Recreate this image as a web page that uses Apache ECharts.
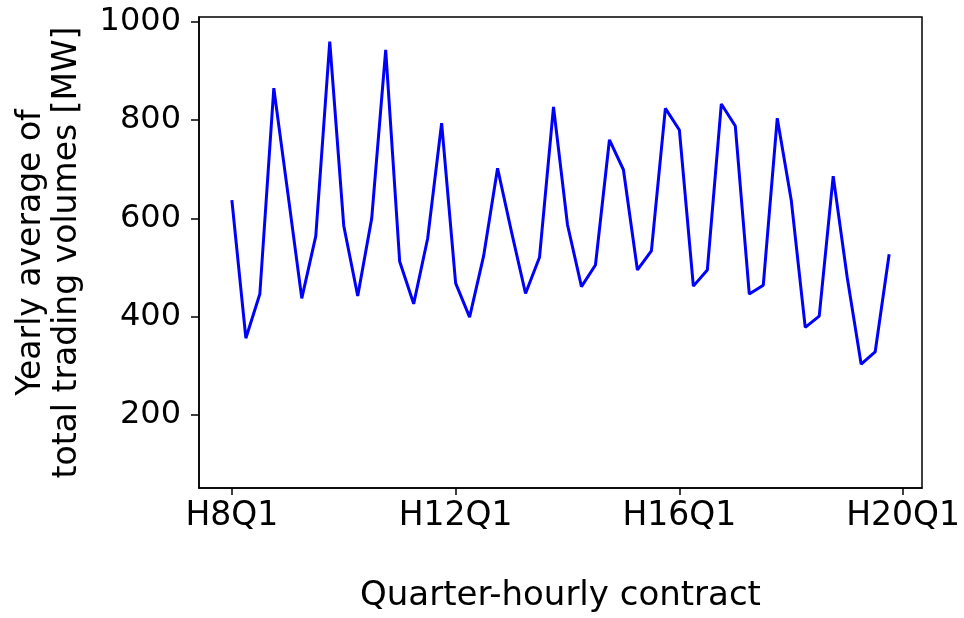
<!DOCTYPE html>
<html>
<head>
<meta charset="utf-8">
<script src="https://cdn.jsdelivr.net/npm/echarts@6/dist/echarts.min.js"></script>
<style>html,body{margin:0;padding:0;background:#fff}#c{width:964px;height:618px}</style>
</head>
<body>
<div id="c"></div>
<script>
const contracts = ['H8Q1','H8Q2','H8Q3','H8Q4','H9Q1','H9Q2','H9Q3','H9Q4','H10Q1','H10Q2','H10Q3','H10Q4','H11Q1','H11Q2','H11Q3','H11Q4','H12Q1','H12Q2','H12Q3','H12Q4','H13Q1','H13Q2','H13Q3','H13Q4','H14Q1','H14Q2','H14Q3','H14Q4','H15Q1','H15Q2','H15Q3','H15Q4','H16Q1','H16Q2','H16Q3','H16Q4','H17Q1','H17Q2','H17Q3','H17Q4','H18Q1','H18Q2','H18Q3','H18Q4','H19Q1','H19Q2','H19Q3','H19Q4'];
const volumes = [637,356,446,865,652,437,564,960,585,442,600,943,512,426,559,794,468,399,523,702,572,447,521,827,587,461,505,760,699,495,534,824,780,462,495,833,788,446,464,804,637,378,401,686,480,303,328,527];
const xTickPos = [0,16,32,48];
const xTickLabels = ['H8Q1','H12Q1','H16Q1','H20Q1'];
const yTicks = [200,400,600,800,1000];

const chart = echarts.init(document.getElementById('c'), null, {renderer:'canvas'});
const font = 'DejaVu Sans';
chart.setOption({
  animation:false,
  backgroundColor:'#fff',
  grid:{left:199, top:17, right:42, bottom:130, show:true, borderColor:'#000', borderWidth:1.5, backgroundColor:'transparent'},
  xAxis:{
    type:'value', min:-2.35, max:49.35,
    name:'Quarter-hourly contract', nameLocation:'middle', nameGap:91,
    nameTextStyle:{fontFamily:font, fontSize:34, color:'#000'},
    axisLine:{show:true, onZero:false, lineStyle:{color:'#000', width:1.5}},
    axisTick:{show:true, length:7, customValues:xTickPos, lineStyle:{color:'#000', width:1.5}},
    axisLabel:{customValues:xTickPos, margin:12, fontFamily:font, fontSize:33, color:'#000',
      formatter:(v)=>xTickLabels[xTickPos.indexOf(Math.round(v))] || ''},
    splitLine:{show:false}
  },
  yAxis:{
    type:'value', min:51, max:1010,
    name:'Yearly average of\ntotal trading volumes [MW]', nameLocation:'middle', nameGap:114, nameRotate:90,
    nameTextStyle:{fontFamily:font, fontSize:33, color:'#000', lineHeight:36},
    axisLine:{show:true, onZero:false, lineStyle:{color:'#000', width:1.5}},
    axisTick:{show:true, length:8, customValues:yTicks, lineStyle:{color:'#000', width:1.5}},
    axisLabel:{customValues:yTicks, margin:18, fontFamily:font, fontSize:32, color:'#000',
      formatter:(v)=>String(v)},
    splitLine:{show:false}
  },
  series:[{
    type:'line',
    data:volumes.map((v,i)=>[i,v]),
    showSymbol:false,
    lineStyle:{color:'#0000ff', width:3},
    itemStyle:{color:'#0000ff'}
  }]
});
</script>
</body>
</html>
